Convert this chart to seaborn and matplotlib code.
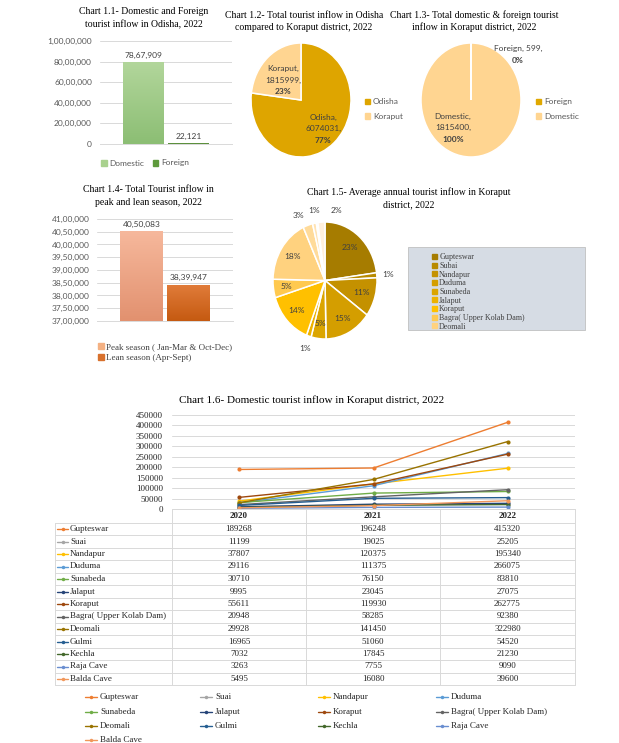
import numpy as np
import pandas as pd
import matplotlib
matplotlib.use('Agg')
import matplotlib.pyplot as plt
import seaborn as sns
from matplotlib.colors import LinearSegmentedColormap
from matplotlib.patches import Rectangle
from matplotlib.lines import Line2D
from matplotlib.ticker import FuncFormatter

# ---------------- data ----------------
odisha_types = ['Domestic', 'Foreign']
odisha_inflow = [7867909, 22121]

share_names = ['Odisha', 'Koraput']
share_values = [6074031, 1815999]

koraput_types = ['Foreign', 'Domestic']
koraput_values = [599, 1815400]

seasons = ['Peak season ( Jan-Mar & Oct-Dec)', 'Lean season (Apr-Sept)']
season_inflow = [4050083, 3839947]

places = ['Gupteswar', 'Suai', 'Nandapur', 'Duduma', 'Sunabeda', 'Jalaput', 'Koraput',
          'Bagra( Upper Kolab Dam)', 'Deomali', 'Gulmi', 'Kechla', 'Raja Cave', 'Balda Cave']
years = ['2020', '2021', '2022']
inflow_2020 = [189268, 11199, 37807, 29116, 30710, 9995, 55611, 20948, 29928, 16965, 7032, 3263, 5495]
inflow_2021 = [196248, 19025, 120375, 111375, 76150, 23045, 119930, 58285, 141450, 51060, 17845, 7755, 16080]
inflow_2022 = [415320, 25205, 195340, 266075, 83810, 27075, 262775, 92380, 322980, 54520, 21230, 9090, 39600]

# legend of chart 1.5 (only the visible entries)
pie_legend_names = ['Gupteswar', 'Subai', 'Nandapur', 'Duduma', 'Sunabeda', 'Jalaput', 'Koraput',
                    'Bagra( Upper Kolab Dam)', 'Deomali']

# ---------------- style ----------------
SANS = ['Lato', 'DejaVu Sans']
SERIF = ['Liberation Serif', 'DejaVu Serif']
sns.set_theme(style='white')
plt.rcParams['font.family'] = SANS

line_colors = ['#ED7D31', '#A5A5A5', '#FFC000', '#5B9BD5', '#70AD47', '#264478', '#9E480E',
               '#636363', '#997300', '#255E91', '#43682B', '#698ED0', '#F1975A']
pie_colors = ['#A67C00', '#B88A00', '#C49100', '#D49E00', '#DBA500', '#EDB200', '#FFC000',
              '#FFC94F', '#FFD27F', '#FFDB9A', '#FFE3B3', '#FFEBCC', '#FFF0DC']

W, H = 619, 743
fig = plt.figure(figsize=(W / 100, H / 100), dpi=100)
bg = fig.add_axes([0, 0, 1, 1])
bg.set_xlim(0, W)
bg.set_ylim(H, 0)
bg.axis('off')


def place(l, t, r, b):
    return fig.add_axes([l / W, 1 - b / H, (r - l) / W, (b - t) / H])


def inr(v, pos=None):
    s = str(int(round(v)))
    if len(s) <= 3:
        return s
    head, tail = s[:-3], s[-3:]
    parts = []
    while len(head) > 2:
        parts.insert(0, head[-2:])
        head = head[:-2]
    if head:
        parts.insert(0, head)
    return ','.join(parts + [tail])


def shade_bars(ax, tops, bottoms):
    xl, yl = ax.get_xlim(), ax.get_ylim()
    for patch, c_top, c_bot in zip(ax.patches, tops, bottoms):
        x0, y0 = patch.get_x(), patch.get_y()
        w, h = patch.get_width(), patch.get_height()
        lo = max(y0, yl[0])
        cmap = LinearSegmentedColormap.from_list('g', [c_bot, c_top])
        ax.imshow(np.linspace(0, 1, 100).reshape(-1, 1), cmap=cmap, origin='lower', aspect='auto',
                  extent=[x0, x0 + w, lo, y0 + h], clip_path=patch, zorder=patch.get_zorder() + 0.1)
    ax.set_xlim(xl)
    ax.set_ylim(yl)


def bar_panel(ax, names, values, colors, ylim, step, pad_px):
    df = pd.DataFrame({'cat': ['all'] * len(names), 'kind': names, 'val': values})
    sns.barplot(data=df, x='cat', y='val', hue='kind', palette=colors, width=0.69, gap=0.1,
                linewidth=0, ax=ax, legend=False)
    ax.set_xlim(-0.5, 0.5)
    ax.set_ylim(*ylim)
    ax.set_yticks(np.arange(ylim[0], ylim[1] + 1, step))
    ax.yaxis.set_major_formatter(FuncFormatter(inr))
    ax.set_xticks([])
    ax.set_xlabel('')
    ax.set_ylabel('')
    ax.set_axisbelow(True)
    ax.grid(axis='y', color='#D9D9D9', lw=0.7)
    for s in ['top', 'right', 'left']:
        ax.spines[s].set_visible(False)
    ax.spines['bottom'].set_color('#D9D9D9')
    ax.spines['bottom'].set_linewidth(0.7)
    ax.tick_params(axis='y', length=0, labelsize=6, labelcolor='#595959', pad=pad_px * 0.72)
    for cont in ax.containers:
        ax.bar_label(cont, labels=[inr(v) for v in cont.datavalues], padding=3,
                     fontsize=6, color='#404040')


def title(x, y, lines, size=7):
    for i, line in enumerate(lines):
        bg.text(x, y + i * 12.5, line, ha='center', va='center', fontsize=size, family=SERIF,
                color='black')


# ---------------- chart 1.1 ----------------
title(144, 12, ['Chart 1.1- Domestic and Foreign', 'tourist inflow in Odisha, 2022'])
ax1 = place(100, 41, 232, 144)
bar_panel(ax1, odisha_types, odisha_inflow, ['#A9D18E', '#5E9A3C'], (0, 10000000), 2000000, 8)
shade_bars(ax1, ['#B2D69B', '#6AA84A'], ['#8CBE74', '#548235'])
fig.legend([Rectangle((0, 0), 1, 1, color=c) for c in ['#A9D18E', '#5E9A3C']], odisha_types,
           loc='center', bbox_to_anchor=(145 / W, 1 - 163 / H), ncol=2, frameon=False, fontsize=6,
           handlelength=0.7, handleheight=0.7, handletextpad=0.3, columnspacing=1.0,
           labelcolor='#595959')

# ---------------- chart 1.4 ----------------
title(148, 190, ['Chart 1.4- Total Tourist inflow in', 'peak and lean season, 2022'])
ax4 = place(97, 219, 233, 321)
bar_panel(ax4, seasons, season_inflow, ['#F4B183', '#D8712D'], (3700000, 4100000), 50000, 7)
shade_bars(ax4, ['#F6B89C', '#E07B39'], ['#E2916F', '#C55A11'])
fig.legend([Rectangle((0, 0), 1, 1, color=c) for c in ['#F4B183', '#D8712D']], seasons,
           loc='upper left', bbox_to_anchor=(90 / W, 1 - 335 / H), ncol=1, frameon=False,
           handlelength=0.6, handleheight=0.6, handletextpad=0.3, labelspacing=0.3,
           prop={'family': SERIF, 'size': 6.5}, labelcolor='#404040')


# ---------------- pies ----------------
def pie_panel(ax, values, colors):
    wedges, _ = ax.pie(values, colors=colors, startangle=90, counterclock=False,
                       wedgeprops=dict(edgecolor='white', linewidth=1.1))
    ax.set_aspect('auto')
    ax.set_xlim(-1, 1)
    ax.set_ylim(-1, 1)
    return wedges


def pie_label(ax, xy, lines, bold_last=True):
    n = len(lines)
    for i, line in enumerate(lines):
        off = ((n - 1) / 2 - i) * 8.3
        ax.annotate(line, xy=xy, xytext=(0, off), textcoords='offset points', ha='center',
                    va='center', fontsize=6, color='#404040',
                    fontweight='bold' if (bold_last and i == n - 1) else 'normal')


total_share = sum(share_values)
title(304, 15, ['Chart 1.2- Total tourist inflow in Odisha', 'compared to Koraput district, 2022'])
ax2 = place(251, 43, 351, 157)
share_cols = ['#DEA500', '#FFD591']
pie_panel(ax2, share_values, share_cols)
for name, val, xy in zip(share_names, share_values, [(0.44, -0.5), (-0.36, 0.35)]):
    pie_label(ax2, xy, [f'{name},', f'{val},', f'{round(100 * val / total_share)}%'])
fig.legend([Rectangle((0, 0), 1, 1, color=c) for c in share_cols], share_names,
           loc='upper left', bbox_to_anchor=(357 / W, 1 - 91 / H), frameon=False, fontsize=6,
           handlelength=0.6, handleheight=0.6, handletextpad=0.4, labelspacing=0.9,
           labelcolor='#595959')

total_kor = sum(koraput_values)
title(474, 15, ['Chart 1.3- Total domestic & foreign tourist', 'inflow in Koraput district, 2022'])
ax3 = place(421, 43, 521, 157)
kor_cols = ['#E0A800', '#FFD591']
pie_panel(ax3, koraput_values, kor_cols)
pie_label(ax3, (0.94, 0.8), [f'{koraput_types[0]}, {koraput_values[0]},',
                             f'{round(100 * koraput_values[0] / total_kor)}%'])
pie_label(ax3, (-0.36, -0.49), [f'{koraput_types[1]},', f'{koraput_values[1]},',
                                f'{round(100 * koraput_values[1] / total_kor)}%'])
fig.legend([Rectangle((0, 0), 1, 1, color=c) for c in kor_cols], koraput_types,
           loc='upper left', bbox_to_anchor=(528 / W, 1 - 91 / H), frameon=False, fontsize=6,
           handlelength=0.6, handleheight=0.6, handletextpad=0.4, labelspacing=0.9,
           labelcolor='#595959')

# ---------------- chart 1.5 ----------------
title(409, 192, ['Chart 1.5- Average annual tourist inflow in Koraput', 'district, 2022'])
ax5 = place(273, 222, 377, 339)
wedges = pie_panel(ax5, inflow_2022, pie_colors)
total_22 = sum(inflow_2022)
# outside labels of the crowded top slices are spread like the original
spread = {'Gulmi': 115, 'Kechla': 100, 'Balda Cave': 80}
for w, v, name in zip(wedges, inflow_2022, places):
    pct = 100 * v / total_22
    if pct < 0.6:
        continue
    ang = spread.get(name, (w.theta1 + w.theta2) / 2)
    ang = np.deg2rad(ang)
    r = 0.74 if pct > 4 else 1.22
    ax5.text(r * np.cos(ang), r * np.sin(ang), f'{round(pct)}%', ha='center', va='center',
             fontsize=6, color='#404040')
bg.add_patch(Rectangle((408, 247), 177, 83, facecolor='#D6DCE4', edgecolor='#C0C0C0', lw=0.6))
fig.legend([Rectangle((0, 0), 1, 1, color=c) for c in pie_colors[:len(pie_legend_names)]],
           pie_legend_names, loc='upper left', bbox_to_anchor=(426 / W, 1 - 247 / H),
           frameon=False, prop={'family': SERIF, 'size': 5.8}, handlelength=0.55,
           handleheight=0.55, handletextpad=0.3, labelspacing=0.08, borderpad=0.3,
           labelcolor='#404040')

# ---------------- chart 1.6 ----------------
title(312, 400, ['Chart 1.6- Domestic tourist inflow in Koraput district, 2022'], size=8)
ax6 = place(172, 415, 575, 509)
df6 = pd.DataFrame({
    'place': places * 3,
    'year': [y for y in years for _ in places],
    'value': inflow_2020 + inflow_2021 + inflow_2022,
})
sns.lineplot(data=df6, x='year', y='value', hue='place', hue_order=places, palette=line_colors,
             marker='o', markersize=3, markeredgewidth=0, linewidth=1, sort=False,
             legend=False, ax=ax6)
ax6.set_xlim(-0.5, 2.5)
ax6.set_ylim(0, 450000)
ax6.set_yticks(np.arange(0, 450001, 50000))
ax6.set_xticks([])
ax6.set_xlabel('')
ax6.set_ylabel('')
ax6.grid(axis='y', color='#D9D9D9', lw=0.7)
ax6.set_axisbelow(True)
for s in ['top', 'right', 'left']:
    ax6.spines[s].set_visible(False)
ax6.spines['bottom'].set_color('#D9D9D9')
ax6.spines['bottom'].set_linewidth(0.7)
ax6.tick_params(axis='y', length=0, labelsize=6.5, pad=6.5)
for lab in ax6.get_yticklabels():
    lab.set_family(SERIF)

# data table under the line chart
col_edges = [55, 172, 306, 440, 575]
col_mid = [(a + b) / 2 for a, b in zip(col_edges[1:-1], col_edges[2:])]
top, row_h = 522.75, 12.5
bottom = top + row_h * len(places)
grid_kw = dict(color='#D9D9D9', lw=0.7)
for k in range(len(places) + 1):
    bg.plot([col_edges[0], col_edges[-1]], [top + k * row_h] * 2, **grid_kw)
bg.plot([col_edges[1], col_edges[-1]], [509, 509], **grid_kw)
bg.plot([col_edges[0]] * 2, [top, bottom], **grid_kw)
for x in col_edges[1:]:
    bg.plot([x, x], [509, bottom], **grid_kw)
for x, yr in zip(col_mid, years):
    bg.text(x, 516, yr, ha='center', va='center', fontsize=6.5, family=SERIF, fontweight='bold')
for i, name in enumerate(places):
    yc = top + row_h * (i + 0.5)
    bg.add_line(Line2D([57, 68], [yc, yc], color=line_colors[i], lw=1))
    bg.plot([62.5], [yc], 'o', ms=2.5, mew=0, color=line_colors[i])
    bg.text(70, yc, name, ha='left', va='center', fontsize=6.5, family=SERIF, color='#262626')
    for x, vals in zip(col_mid, [inflow_2020, inflow_2021, inflow_2022]):
        bg.text(x, yc, str(vals[i]), ha='center', va='center', fontsize=6.5, family=SERIF,
                color='#262626')

# bottom legend (row-wise)
leg_x = [85, 200, 318, 436]
leg_y = [697, 711.5, 726, 740]
for i, name in enumerate(places):
    x, y = leg_x[i % 4], leg_y[i // 4]
    bg.add_line(Line2D([x, x + 12], [y, y], color=line_colors[i], lw=1))
    bg.plot([x + 6], [y], 'o', ms=2.5, mew=0, color=line_colors[i])
    bg.text(x + 15, y, name, ha='left', va='center', fontsize=6.5, family=SERIF, color='#262626')

fig.savefig('out.png', dpi=100)
